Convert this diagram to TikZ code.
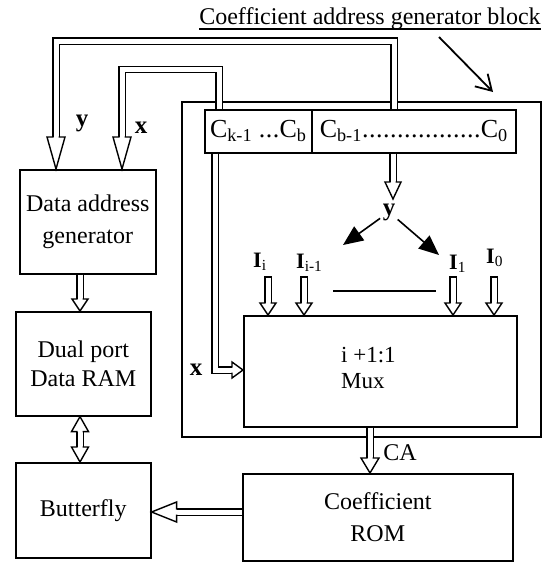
\documentclass[tikz,border=0pt]{standalone}
\usepackage{fontspec}
\setmainfont{Liberation Serif}
\usetikzlibrary{arrows.meta,calc}
% dotted leader of a given width, dots 7pt apart
\newcommand\regdots[1]{\hbox to #1{\leaders\hbox to 7pt{\hss.\hss}\hfill}}

\begin{document}
\begin{tikzpicture}[x=1pt, y=-1pt,
  every node/.style={inner sep=0pt, font=\fontsize{24}{29}\selectfont},
  blk/.style={draw, line width=1.6pt, anchor=north west, align=center},
  bus/.style={draw, line width=1.4pt, double=white, double distance=5pt},
  hh/.style={draw, line width=1.4pt, line join=miter, line cap=butt},
  buscap/.style={line width=1.4pt, line cap=rect},
  % open heads for the hollow bus arrows (tip at the pic origin)
  pics/hd/.style 2 args={code={
    \fill[white] (-#2/2,-#1) -- (0,0) -- (#2/2,-#1) -- cycle;
    \draw[hh] (-2.5,-#1) -- (-#2/2,-#1) -- (0,0) -- (#2/2,-#1) -- (2.5,-#1);}},
  pics/hu/.style 2 args={code={
    \fill[white] (-#2/2,#1) -- (0,0) -- (#2/2,#1) -- cycle;
    \draw[hh] (-2.5,#1) -- (-#2/2,#1) -- (0,0) -- (#2/2,#1) -- (2.5,#1);}},
  pics/hl/.style 2 args={code={
    \fill[white] (#1,-#2/2) -- (0,0) -- (#1,#2/2) -- cycle;
    \draw[hh] (#1,-2.5) -- (#1,-#2/2) -- (0,0) -- (#1,#2/2) -- (#1,2.5);}},
  pics/hr/.style 2 args={code={
    \fill[white] (-#1,-#2/2) -- (0,0) -- (-#1,#2/2) -- cycle;
    \draw[hh] (-#1,-2.5) -- (-#1,-#2/2) -- (0,0) -- (-#1,#2/2) -- (-#1,2.5);}},
  sig/.style={line width=1.6pt, -{Triangle[length=20pt,width=17pt]}},
  bl/.style={font=\fontsize{25}{29}\selectfont\bfseries},
  reg/.style={blk, minimum height=43pt, font=\fontsize{26}{30}\selectfont},
]
\useasboundingbox (0,0) rectangle (552,565);

% title and pointer to the block
\node[anchor=base] (title) at (370,24) {Coefficient address generator block};
\draw[line width=1.3pt] ($(title.base west)+(0,5)$) -- ($(title.base east)+(0,5)$);
\coordinate (ptrfrom) at (439,37);
\coordinate (ptrto) at (493,92);
\draw[line width=1.8pt, -{Straight Barb[length=15pt,width=18pt]}] (ptrfrom) -- (ptrto);

% coefficient address generator block
\node[blk, minimum width=359pt, minimum height=335pt] (cag) at (181,101) {};
\node[reg, minimum width=107pt] (rega) at (204,109) {C\textsubscript{k-1} \regdots{21pt}C\textsubscript{b}};
\node[reg, minimum width=204pt] (regb) at (311,109) {C\textsubscript{b-1}\regdots{119pt}C\textsubscript{0}};
\node[blk, minimum width=273pt, minimum height=111pt] (mux) at (243,315) {};
\node[anchor=north west, align=left, font=\fontsize{23}{26}\selectfont] (muxtxt) at (341,347) {i +1:1\\Mux};

% left column and ROM
\node[blk, minimum width=136pt, minimum height=104pt, font=\fontsize{24}{32}\selectfont] (dag) at (19,169) {Data address\\generator};
\node[blk, minimum width=135pt, minimum height=104pt] (ram) at (15,311) {Dual port\\Data RAM};
\node[blk, minimum width=135pt, minimum height=95pt] (bfly) at (15,462) {Butterfly};
\node[blk, minimum width=270pt, minimum height=87pt, font=\fontsize{24}{32}\selectfont] (rom) at (242,473) {Coefficient\\ROM};

% x bus: register -> data address generator
\coordinate (xtop) at (219,69.5);
\coordinate (xleft) at (122,69.5);
\draw[bus] (rega.north -| xtop) -- (xtop) -- (xleft) -- ($(dag.north -| xleft)+(0,-32)$);
\pic at (dag.north -| xleft) {hd={32}{18}};
\node[bl, anchor=base] (xlab) at (141,133) {x};

% y bus: register -> data address generator
\coordinate (ytop) at (394,41);
\coordinate (yleft) at (56,41);
\draw[bus] (regb.north -| ytop) -- (ytop) -- (yleft) -- ($(dag.north -| yleft)+(0,-32)$);
\pic at (dag.north -| yleft) {hd={32}{18}};
\node[bl, anchor=base] (ylab) at (82,126) {y};

% x bus: register -> mux select
\coordinate (xin) at (215,370);
\draw[bus] (rega.south -| xin) -- (xin) -- ($(mux.west |- xin)+(-11,0)$);
\pic at (mux.west |- xin) {hr={11}{16}};
\node[bl, anchor=base] (xlab2) at (196,375) {x};

% y out of the register, fanning to the mux inputs
\coordinate (ytip) at (393,199);
\draw[bus] (regb.south -| ytip) -- ($(ytip)+(0,-17)$);
\pic at (ytip) {hd={17}{16}};
\node[bl, anchor=base] (ysel) at (389,215) {y};
\coordinate (ya) at (343,245);
\coordinate (yb) at (439,255);
\draw[sig, shorten <=3pt] (ysel) -- (ya);
\draw[sig, shorten <=3pt] (ysel) -- (yb);
\coordinate (dash1) at (333,291);
\coordinate (dash2) at (436,291);
\draw[line width=1.6pt] (dash1) -- (dash2);

% mux data inputs
\foreach \ax/\lx/\by/\txt/\nm in {268/253/267/i/ii, 304/296/268/i-1/iim, 453/449/269/1/ione, 494/486/263/0/izero} {
  \node[anchor=base west, font=\fontsize{22}{26}\selectfont] (lab\nm) at (\lx,\by) {\textbf{I}\textsubscript{\txt}};
  \coordinate (in\nm) at (\ax,277);
  \draw[bus] (in\nm) -- ($(mux.north -| in\nm)+(0,-12)$);
  \draw[buscap] ($(in\nm)+(-3.2,0)$) -- ($(in\nm)+(3.2,0)$);
  \pic at (mux.north -| in\nm) {hd={12}{16}};
}

% CA: mux -> coefficient ROM
\coordinate (cax) at (370,0);
\draw[bus] (mux.south -| cax) -- ($(rom.north -| cax)+(0,-15)$);
\pic at (rom.north -| cax) {hd={15}{18}};
\node[anchor=base] (calab) at (400,460) {CA};

% data path in the left column
\coordinate (colx) at (80,0);
\draw[bus] (dag.south -| colx) -- ($(ram.north -| colx)+(0,-12)$);
\pic at (ram.north -| colx) {hd={12}{16}};
\draw[bus] ($(ram.south -| colx)+(0,15)$) -- ($(bfly.north -| colx)+(0,-15)$);
\pic at (ram.south -| colx) {hu={15}{17}};
\pic at (bfly.north -| colx) {hd={15}{17}};

% coefficients to the butterfly
\coordinate (by) at (0,512);
\draw[bus] (rom.west |- by) -- ($(bfly.east |- by)+(25,0)$);
\pic at (bfly.east |- by) {hl={25}{20}};
\end{tikzpicture}
\end{document}
